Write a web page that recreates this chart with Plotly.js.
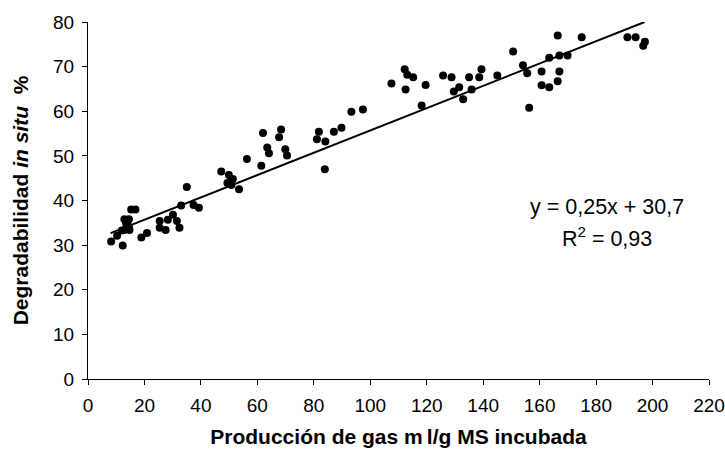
<!DOCTYPE html>
<html>
<head>
<meta charset="utf-8">
<script src="https://cdn.plot.ly/plotly-3.0.1.min.js"></script>
<style>html,body{margin:0;padding:0;background:#fff;}#chart{width:725px;height:452px;}</style>
</head>
<body>
<div id="chart"></div>
<script>
// Data
const gasProduction = [8.2,10.3,12.3,12.0,12.9,14.5,13.5,14.5,12.9,14.7,15.3,16.8,18.9,20.9,25.4,25.4,27.5,28.3,30.1,31.5,32.4,33.0,35.0,37.4,39.3,47.2,49.9,51.3,49.4,50.8,53.5,56.3,61.4,62.0,63.5,64.1,67.7,68.4,69.9,70.5,81.1,81.8,84.1,83.9,87.1,89.8,93.3,97.4,107.5,112.2,113.1,115.2,112.5,119.6,118.2,125.8,128.8,129.6,131.5,132.9,135.0,135.9,138.6,139.4,145.0,150.6,154.1,155.6,156.3,160.7,160.7,163.4,163.4,166.4,167.0,167.0,166.4,169.9,174.9,191.1,194.0,197.3,196.7];
const degradability = [30.8,32.1,29.9,33.3,35.8,35.8,34.9,34.1,33.4,33.4,38.0,38.0,31.7,32.7,35.4,33.9,33.4,35.7,36.8,35.4,33.9,38.9,43.0,39.0,38.4,46.5,45.7,44.8,43.9,43.5,42.5,49.3,47.8,55.1,51.9,50.6,54.2,55.9,51.5,50.1,53.7,55.4,53.2,47.0,55.4,56.3,59.9,60.4,66.2,69.4,68.2,67.6,64.9,65.9,61.3,68.0,67.6,64.4,65.4,62.7,67.6,64.9,67.6,69.4,68.0,73.4,70.3,68.5,60.8,68.9,65.8,72.0,65.4,77.0,72.5,68.9,66.7,72.5,76.6,76.6,76.6,75.6,74.7];
const trendSlope = 0.25;
const trendIntercept = 30.7;
const trendXStart = 8;
const yMax = 80;
const xTicks = [0,20,40,60,80,100,120,140,160,180,200,220];
const yTicks = [0,10,20,30,40,50,60,70,80];
const equationLabel = 'y = 0,25x + 30,7';
const r2Label = 'R<sup>2</sup> = 0,93';

const trendXEnd = (yMax - trendIntercept) / trendSlope;
const trendX = [trendXStart, trendXEnd];
const trendY = trendX.map(v => trendSlope * v + trendIntercept);

const font = 'Liberation Sans, Arial, sans-serif';

const traces = [
  {x: gasProduction, y: degradability, type: 'scatter', mode: 'markers',
   marker: {color: '#000', size: 8}, hoverinfo: 'x+y', cliponaxis: false},
  {x: trendX, y: trendY, type: 'scatter', mode: 'lines',
   line: {color: '#000', width: 2}}
];

const layout = {
  width: 725, height: 452,
  margin: {l: 88, r: 16, t: 22, b: 73},
  paper_bgcolor: '#fff', plot_bgcolor: '#fff',
  showlegend: false,
  font: {family: font, color: '#000'},
  xaxis: {
    range: [0, 220], tickvals: xTicks, ticktext: xTicks.map(String),
    showgrid: false, zeroline: false, showline: true, linecolor: '#000', linewidth: 1,
    ticks: 'outside', ticklen: 5, tickcolor: '#000', ticklabelstandoff: 4,
    tickfont: {size: 19, family: font},
    title: {text: '<b>Producción de gas m\u2009l/g MS incubada</b>', font: {size: 21, family: font}, standoff: 14},
    automargin: false
  },
  yaxis: {
    range: [0, 80], tickvals: yTicks, ticktext: yTicks.map(String),
    showgrid: false, zeroline: false, showline: true, linecolor: '#000', linewidth: 1,
    ticks: 'outside', ticklen: 5, tickcolor: '#000', ticklabelstandoff: 4,
    tickfont: {size: 19, family: font},
    title: {text: '<b>Degradabilidad <i>in situ</i>  %</b>', font: {size: 21, family: font}, standoff: 18},
    automargin: false
  },
  annotations: [
    {x: 183.9, y: 38.6, xref: 'x', yref: 'y', text: equationLabel, showarrow: false,
     font: {size: 21.5, family: font, color: '#000'}},
    {x: 183.9, y: 31.8, xref: 'x', yref: 'y', text: r2Label, showarrow: false,
     font: {size: 21.5, family: font, color: '#000'}}
  ]
};

Plotly.newPlot('chart', traces, layout, {displayModeBar: false, staticPlot: true});
</script>
</body>
</html>
